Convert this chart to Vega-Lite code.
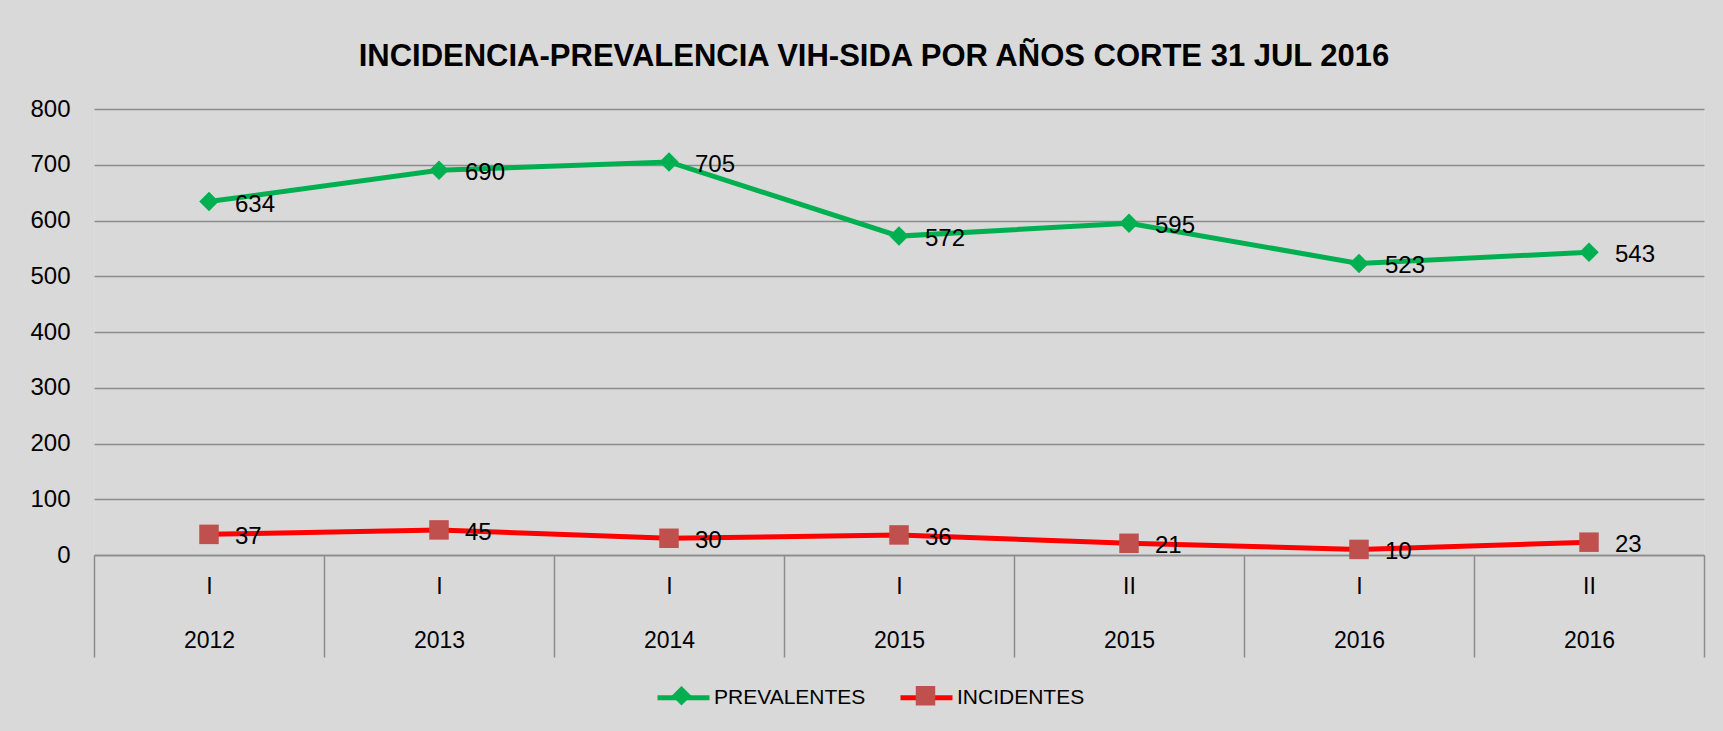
{
  "$schema": "https://vega.github.io/schema/vega-lite/v6.json",
  "width": 1610,
  "height": 446,
  "autosize": {"type": "none"},
  "padding": {"left": 94, "top": 109, "right": 19, "bottom": 176},
  "background": "#D9D9D9",
  "title": {
    "text": "INCIDENCIA-PREVALENCIA VIH-SIDA POR AÑOS CORTE 31 JUL 2016",
    "font": "Liberation Sans",
    "fontSize": 31,
    "fontWeight": "bold",
    "color": "#000000",
    "anchor": "middle",
    "frame": "group",
    "dx": -25,
    "offset": 24
  },
  "data": {
    "values": [
      {"cat": "I|2012", "series": "PREVALENTES", "value": 634},
      {"cat": "I|2013", "series": "PREVALENTES", "value": 690},
      {"cat": "I|2014", "series": "PREVALENTES", "value": 705},
      {"cat": "I|2015", "series": "PREVALENTES", "value": 572},
      {"cat": "II|2015", "series": "PREVALENTES", "value": 595},
      {"cat": "I|2016", "series": "PREVALENTES", "value": 523},
      {"cat": "II|2016", "series": "PREVALENTES", "value": 543},
      {"cat": "I|2012", "series": "INCIDENTES", "value": 37},
      {"cat": "I|2013", "series": "INCIDENTES", "value": 45},
      {"cat": "I|2014", "series": "INCIDENTES", "value": 30},
      {"cat": "I|2015", "series": "INCIDENTES", "value": 36},
      {"cat": "II|2015", "series": "INCIDENTES", "value": 21},
      {"cat": "I|2016", "series": "INCIDENTES", "value": 10},
      {"cat": "II|2016", "series": "INCIDENTES", "value": 23}
    ]
  },
  "encoding": {
    "x": {
      "field": "cat",
      "type": "nominal",
      "sort": null,
      "scale": {
        "type": "band",
        "paddingInner": 0,
        "paddingOuter": 0,
        "domain": ["I|2012", "I|2013", "I|2014", "I|2015", "II|2015", "I|2016", "II|2016"]
      },
      "axis": {
        "title": null,
        "labelExpr": "split(datum.label, '|')",
        "labelAngle": 0,
        "labelAlign": "center",
        "labelFont": "Liberation Sans",
        "labelFontSize": 23,
        "labelColor": "#000000",
        "labelLineHeight": 54,
        "labelBaseline": "top",
        "labelPadding": -82,
        "labelOverlap": false,
        "labelBound": false,
        "tickBand": "extent",
        "tickSize": 102,
        "tickColor": "#8C8C8C",
        "tickWidth": 1.5,
        "domainColor": "#8C8C8C",
        "domainWidth": 1.5,
        "grid": false
      }
    },
    "y": {
      "field": "value",
      "type": "quantitative",
      "scale": {"domain": [0, 800], "nice": false},
      "axis": {
        "title": null,
        "values": [0, 100, 200, 300, 400, 500, 600, 700, 800],
        "domain": false,
        "ticks": false,
        "labelFont": "Liberation Sans",
        "labelFontSize": 24,
        "labelColor": "#000000",
        "labelPadding": 24,
        "gridColor": "#8C8C8C",
        "gridWidth": 1.5
      }
    }
  },
  "layer": [
    {
      "mark": {"type": "line", "strokeWidth": 5},
      "encoding": {
        "stroke": {
          "field": "series",
          "type": "nominal",
          "sort": ["PREVALENTES", "INCIDENTES"],
          "scale": {"range": ["#00B050", "#FF0000"]},
          "legend": {
            "orient": "none",
            "direction": "horizontal",
            "legendX": 561,
            "legendY": 560,
            "title": null,
            "padding": 0,
            "symbolType": "stroke",
            "symbolSize": 2704,
            "symbolStrokeWidth": 5,
            "labelFont": "Liberation Sans",
            "labelFontSize": 21,
            "labelColor": "#000000",
            "labelOffset": 2,
            "columnPadding": 24
          }
        }
      }
    },
    {
      "mark": {"type": "point", "filled": true, "opacity": 1, "size": 380},
      "encoding": {
        "color": {
          "field": "series",
          "type": "nominal",
          "scale": {"domain": ["PREVALENTES", "INCIDENTES"], "range": ["#00B050", "#C0504D"]},
          "legend": {
            "orient": "none",
            "direction": "horizontal",
            "legendX": 577,
            "legendY": 576,
            "title": null,
            "padding": 0,
            "symbolSize": 380,
            "symbolOpacity": 1,
            "symbolStrokeWidth": 0,
            "labelExpr": "''",
            "labelFont": "Liberation Sans",
            "labelFontSize": 21,
            "labelOffset": 34,
            "columnPadding": 189
          }
        },
        "shape": {
          "field": "series",
          "type": "nominal",
          "scale": {"domain": ["PREVALENTES", "INCIDENTES"], "range": ["diamond", "square"]},
          "legend": {
            "orient": "none",
            "direction": "horizontal",
            "legendX": 577,
            "legendY": 576,
            "title": null,
            "padding": 0,
            "symbolSize": 380,
            "symbolOpacity": 1,
            "symbolStrokeWidth": 0,
            "labelExpr": "''",
            "labelFont": "Liberation Sans",
            "labelFontSize": 21,
            "labelOffset": 34,
            "columnPadding": 189
          }
        }
      }
    },
    {
      "mark": {
        "type": "text",
        "align": "left",
        "baseline": "middle",
        "dx": 26,
        "dy": 3,
        "font": "Liberation Sans",
        "fontSize": 24,
        "color": "#000000"
      },
      "encoding": {
        "text": {"field": "value", "type": "quantitative"},
        "detail": {"field": "series", "type": "nominal"}
      }
    }
  ]
}
